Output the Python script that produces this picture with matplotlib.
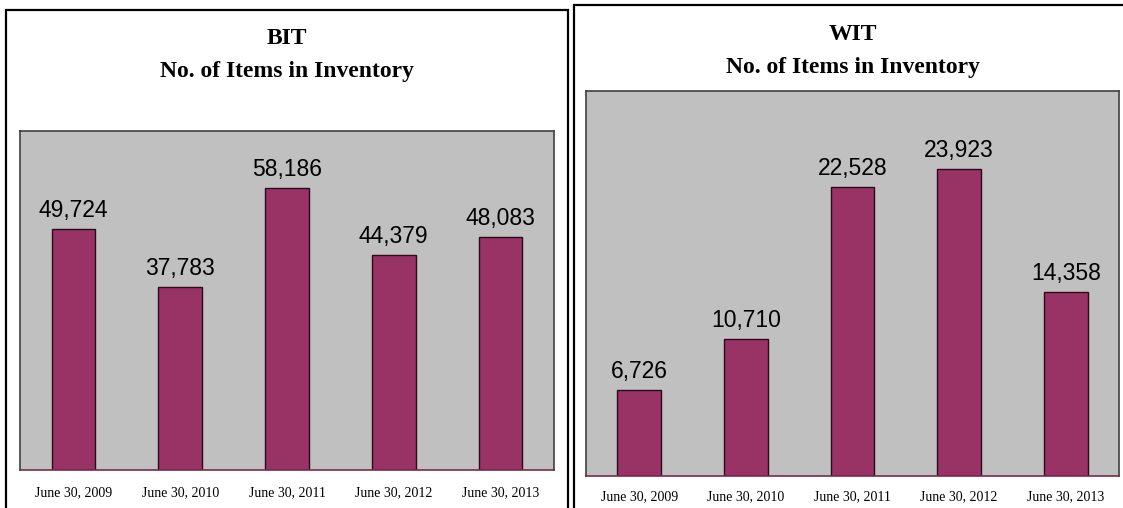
import matplotlib.pyplot as plt
from matplotlib.patches import Rectangle

# data
dates = ["June 30, 2009", "June 30, 2010", "June 30, 2011", "June 30, 2012", "June 30, 2013"]
bit_items = [49724, 37783, 58186, 44379, 48083]
wit_items = [6726, 10710, 22528, 23923, 14358]

W, H = 1123, 508
bar_color = "#993366"
gray = "#C0C0C0"

fig = plt.figure(figsize=(W / 100, H / 100), dpi=100)
fig.patch.set_facecolor("white")


def fx(px):
    return px / W


def fy(py):
    return 1 - py / H


# panel frames
for x0, y0, x1 in [(6, 10, 568), (574, 5, 1130)]:
    fig.add_artist(Rectangle((fx(x0), fy(H + 10)), fx(x1 - x0), (H + 10 - y0) / H,
                             transform=fig.transFigure, fill=False,
                             edgecolor="black", linewidth=1.6))


def draw_panel(rect, title, values, ymax, title_y, tick_pad):
    ax = fig.add_axes(rect)
    ax.set_facecolor(gray)
    x = range(len(values))
    ax.bar(x, values, width=0.41, color=bar_color, edgecolor="#2a0a18", linewidth=1.0)
    ax.set_xlim(-0.5, len(values) - 0.5)
    ax.set_ylim(0, ymax)
    ax.set_yticks([])
    ax.set_xticks(list(x))
    ax.set_xticklabels(dates, family="Liberation Serif", fontsize=10)
    ax.tick_params(axis="x", length=0, pad=tick_pad)
    for s in ["top", "left", "right"]:
        ax.spines[s].set_color("#404040")
        ax.spines[s].set_linewidth(1.2)
    ax.spines["bottom"].set_color("#7a2a4c")
    ax.spines["bottom"].set_linewidth(1.2)
    for i, v in enumerate(values):
        ax.annotate(f"{v:,}", (i, v), xytext=(0, 5), textcoords="offset points",
                    ha="center", va="bottom", family="Liberation Sans", fontsize=16.5)
    cx = rect[0] + rect[2] / 2
    fig.text(cx, fy(title_y[0]), title, ha="center", va="center",
             family="Liberation Serif", fontweight="bold", fontsize=17)
    fig.text(cx, fy(title_y[1]), "No. of Items in Inventory", ha="center", va="center",
             family="Liberation Serif", fontweight="bold", fontsize=17)
    return ax


draw_panel([fx(20), fy(470), fx(554 - 20), (470 - 131) / H], "BIT", bit_items, 70000,
           (38, 71), 11.5)
draw_panel([fx(586), fy(476), fx(1119 - 586), (476 - 91) / H], "WIT", wit_items, 30000,
           (34, 67), 10.5)

fig.savefig("out.png", dpi=100, facecolor="white")
